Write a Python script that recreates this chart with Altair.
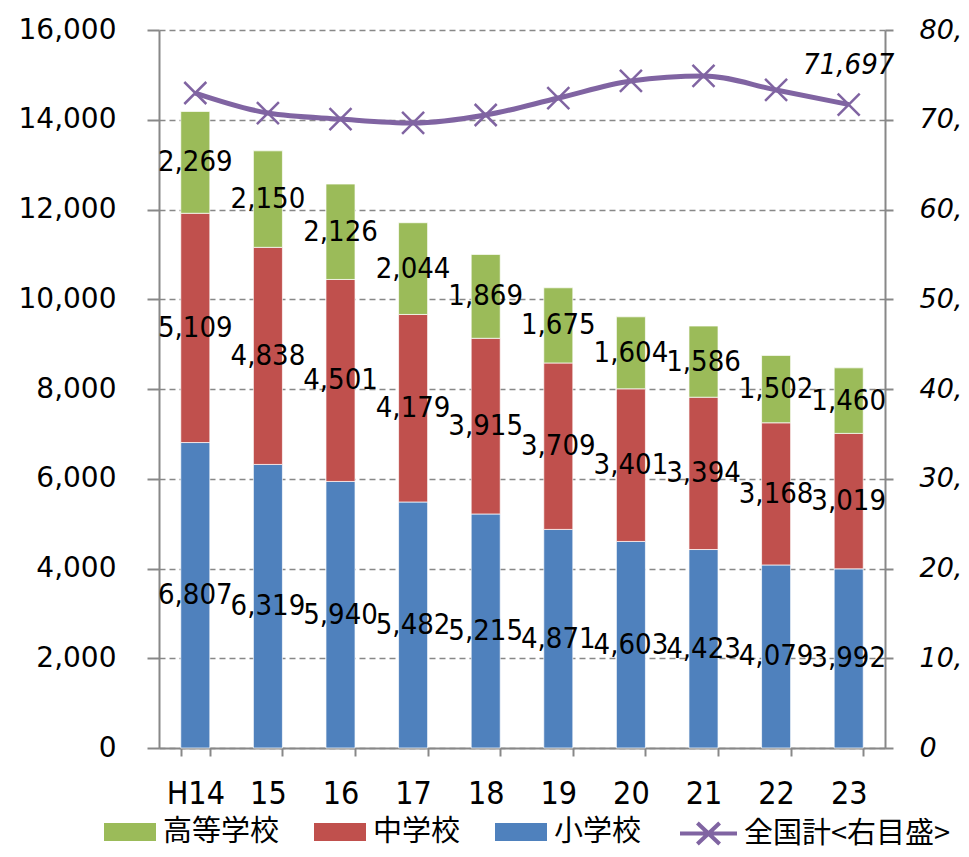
import altair as alt
import pandas as pd

years = ["H14", "15", "16", "17", "18", "19", "20", "21", "22", "23"]
elementary = [6807, 6319, 5940, 5482, 5215, 4871, 4603, 4423, 4079, 3992]
junior_high = [5109, 4838, 4501, 4179, 3915, 3709, 3401, 3394, 3168, 3019]
high_school = [2269, 2150, 2126, 2044, 1869, 1675, 1604, 1586, 1502, 1460]
national = [72980, 70750, 70080, 69640, 70530, 72420, 74320, 74880, 73320, 71697]

school_names = ["高等学校", "中学校", "小学校"]
school_colors = ["#9BBB59", "#C0504D", "#4F81BD"]
line_name = "全国計<右目盛>"

rows = []
for i, y in enumerate(years):
    rows.append({"year": y, "school": "小学校", "value": elementary[i], "order": 1})
    rows.append({"year": y, "school": "中学校", "value": junior_high[i], "order": 2})
    rows.append({"year": y, "school": "高等学校", "value": high_school[i], "order": 3})
df = pd.DataFrame(rows)
line_df = pd.DataFrame({"year": years, "total": national, "series": [line_name] * len(years)})
last_df = line_df.tail(1)

NARROW = "Liberation Sans Narrow, DejaVu Sans Condensed, Arial Narrow, sans-serif"
GRAY = "#888888"

x_enc = alt.X(
    "year:N", sort=years,
    scale=alt.Scale(paddingInner=0.6, paddingOuter=0.3),
    axis=alt.Axis(title=None, labelAngle=0, labelFont=NARROW, labelFontSize=32,
                  labelColor="black", tickBand="extent", tickSize=8, tickColor=GRAY,
                  tickWidth=2, domainColor=GRAY, domainWidth=2, labelPadding=22),
)

yl_scale = alt.Scale(domain=[0, 16000], nice=False)
yl_axis = alt.Axis(title=None, values=list(range(0, 16001, 2000)),
                   labelExpr="format(datum.value, ',')",
                   labelFont="DejaVu Sans", labelFontSize=28, labelColor="black",
                   tickSize=12, tickColor=GRAY, tickWidth=2, domainColor=GRAY,
                   domainWidth=2, grid=True, gridDash=[6, 4], gridColor=GRAY,
                   gridWidth=1.5, labelPadding=31)

bars = alt.Chart(df).mark_bar(stroke="white", strokeWidth=1, strokeOpacity=0.7).encode(
    x=x_enc,
    y=alt.Y("value:Q", stack="zero", scale=yl_scale, axis=yl_axis),
    color=alt.Color("school:N",
                    scale=alt.Scale(domain=school_names, range=school_colors),
                    legend=alt.Legend(title=None, orient="none", legendX=-55, legendY=776,
                                      direction="horizontal",
                                      symbolType="M-1,-0.346L1,-0.346L1,0.346L-1,0.346Z",
                                      symbolSize=2704, symbolStrokeWidth=0,
                                      labelFont="Noto Sans CJK JP", labelFontSize=29,
                                      labelColor="black", columnPadding=34, labelOffset=7,
                                      labelLimit=400)),
    order=alt.Order("order:Q", sort="ascending"),
)

bar_labels = alt.Chart(df).transform_stack(
    stack="value", groupby=["year"], sort=[alt.SortField("order", "ascending")],
    as_=["v0", "v1"],
).transform_calculate(mid="(datum.v0 + datum.v1) / 2").mark_text(
    font=NARROW, fontSize=29, color="black"
).encode(
    x=x_enc,
    y=alt.Y("mid:Q", scale=yl_scale, axis=yl_axis),
    text=alt.Text("value:Q", format=","),
)

yr_scale = alt.Scale(domain=[0, 80000], nice=False)
yr_axis = alt.Axis(orient="right", title=None, values=list(range(0, 80001, 10000)),
                   labelExpr="datum.value == 0 ? '0' : substring(format(datum.value, ','), 0, 3)",
                   labelFont="DejaVu Sans", labelFontStyle="italic", labelFontSize=27,
                   labelColor="black", tickSize=8, tickColor=GRAY, tickWidth=2,
                   domainColor=GRAY, domainWidth=2, grid=False, labelPadding=26)

line = alt.Chart(line_df).mark_line(strokeWidth=5, interpolate="monotone").encode(
    x=x_enc,
    y=alt.Y("total:Q", scale=yr_scale, axis=yr_axis),
    stroke=alt.Stroke("series:N", scale=alt.Scale(domain=[line_name], range=["#8064A2"]),
                      legend=alt.Legend(title=None, orient="none", legendX=519, legendY=773,
                                        symbolType="M-1,0L1,0M-0.39,-0.37L0.39,0.37M-0.39,0.37L0.39,-0.37",
                                        symbolSize=3249, symbolStrokeWidth=4,
                                        symbolFillColor="transparent",
                                        labelFont="Noto Sans CJK JP", labelFontSize=29,
                                        labelColor="black", labelOffset=5, labelLimit=400)),
)

points = alt.Chart(line_df).mark_point(
    shape="M-1,-1L1,1M-1,1L1,-1", size=484, filled=False, strokeWidth=2.5,
    color="#8064A2", opacity=1
).encode(
    x=x_enc,
    y=alt.Y("total:Q", scale=yr_scale, axis=yr_axis),
)

line_label = alt.Chart(last_df).mark_text(
    font=NARROW, fontStyle="italic", fontSize=29, color="black", dy=-40
).encode(
    x=x_enc,
    y=alt.Y("total:Q", scale=yr_scale, axis=yr_axis),
    text=alt.Text("total:Q", format=","),
)

chart = alt.layer(
    alt.layer(bars, bar_labels),
    alt.layer(line, points, line_label),
).resolve_scale(y="independent", color="independent", stroke="independent").properties(
    width=726, height=718,
    autosize=alt.AutoSizeParams(type="none"),
    padding={"left": 151, "top": 22, "right": 76, "bottom": 101},
    background="white",
).configure_view(stroke=None)

chart.save("out.html", embed_options={"renderer": "svg", "actions": False})
